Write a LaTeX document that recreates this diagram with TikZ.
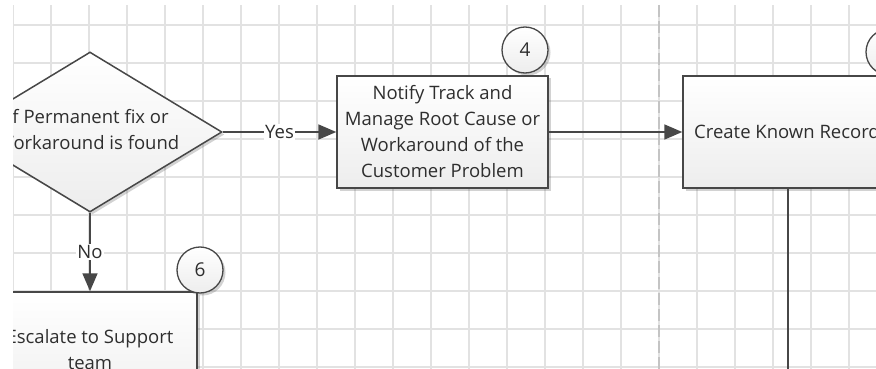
\documentclass[tikz,border=0pt]{standalone}
\usepackage{fontspec}
\setmainfont{Open Sans}
\usetikzlibrary{arrows.meta,shapes.geometric,shadows}
\definecolor{gridc}{HTML}{E2E2E2}
\definecolor{linec}{HTML}{474747}
\definecolor{txtc}{HTML}{2E2E2E}
\definecolor{boxbot}{HTML}{EDEDED}
\definecolor{dashc}{HTML}{C4C4C4}
\tikzset{
  gridline/.style={draw=gridc, line width=1.5pt},
  flow/.style={draw=linec, line width=1.8pt, -{Triangle[length=18pt,width=15pt]}},
  plainline/.style={draw=linec, line width=1.8pt},
  shade/.style={top color=white, bottom color=boxbot},
  softshadow/.style={drop shadow={shadow xshift=2.5pt, shadow yshift=-2.5pt, opacity=0.25, fill=black!70}},
  procbox/.style={rectangle, draw=linec, line width=1.5pt, shade, softshadow, inner sep=0pt},
  decision/.style={diamond, draw=linec, line width=1.5pt, shade, softshadow, inner sep=0pt},
  numcirc/.style={circle, draw=linec, line width=1.3pt, top color=white, bottom color=boxbot, softshadow, minimum size=46pt, inner sep=0pt, font=\fontsize{19}{22}\selectfont, text=txtc},
  txt/.style={align=center, font=\fontsize{18.5}{26}\selectfont, text=txtc, inner sep=0pt},
  lbl/.style={fill=white, inner sep=1.5pt, font=\fontsize{18.5}{22}\selectfont, text=txtc},
}
\begin{document}
\begin{tikzpicture}[x=1pt, y=-1pt]
\useasboundingbox (0,0) rectangle (876,369);
\begin{scope}
\clip (13,5) rectangle (876,369);
% grid
\foreach \gx in {13,51,...,875} {\draw[gridline] (\gx,5) -- (\gx,369);}
\foreach \gy in {25,63,...,368} {\draw[gridline] (13,\gy) -- (876,\gy);}
% dashed separator
\draw[draw=dashc, line width=1.5pt, dash pattern=on 12pt off 4pt] (659,5) -- (659,369);
% shapes
\node[decision, minimum width=264pt, minimum height=160pt] (dec) at (90,132) {};
\node[txt] (dectxt) at (88,130) {If Permanent fix or\\Workaround is found};
\node[procbox, minimum width=211pt, minimum height=112pt] (b4) at (442.5,132) {};
\node[txt] (b4txt) at (442.5,132) {Notify Track and\\Manage Root Cause or\\Workaround of the\\Customer Problem};
\node[procbox, minimum width=317pt, minimum height=112pt] (ck) at (841.5,132) {};
\node[txt, anchor=west] (cktxt) at (694,132) {Create Known Record};
\node[procbox, minimum width=214pt, minimum height=130pt] (b6) at (90,357) {};
\node[txt] (b6txt) at (90,349.5) {Escalate to Support\\team};
% connectors
\draw[flow] (dec.east) -- node[lbl] (yes) {Yes} (b4.west);
\draw[flow] (dec.south) -- node[lbl] (no) {No} (b6.north);
\draw[flow] (b4.east) -- (ck.west);
\coordinate (vend) at (788,380);
\draw[plainline] (ck.south -| vend) -- (vend);
% number circles
\node[numcirc] (c4) at (525,50) {4};
\node[numcirc] (c6) at (200,270) {6};
\node[numcirc] (c5) at (889,52) {};
\end{scope}
\end{tikzpicture}
\end{document}
